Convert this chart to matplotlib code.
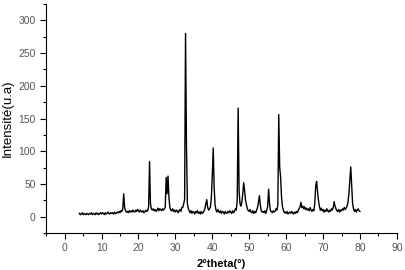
import numpy as np
import matplotlib
matplotlib.use("Agg")
import matplotlib.pyplot as plt
from matplotlib.ticker import MultipleLocator

plt.rcParams["font.family"] = ["Liberation Sans", "DejaVu Sans"]

# 2theta from 4 to 80 deg, one reading every 0.25 deg
two_theta = np.arange(4, 80.001, 0.25)

intensity = [
    5, 3, 4, 6,   3, 5, 4, 3,   5, 4, 3, 5,   4, 6, 3, 5,      # 4-7
    4, 3, 6, 4,   5, 3, 5, 6,   4, 6, 5, 3,   6, 4, 5, 7,      # 8-11
    5, 4, 6, 5,   6, 4, 7, 5,   5, 7, 6, 8,   6, 9, 8, 12,     # 12-15
    35, 14, 9, 7, 8, 6, 9, 7,   9, 7, 10, 8,  7, 10, 8, 11,    # 16-19
    9, 7, 10, 8,  7, 9, 6, 8,   10, 8, 9, 15, 84, 20, 12, 10,  # 20-23
    12, 9, 11, 8, 10, 13, 9, 12, 11, 9, 12, 10, 12, 14, 60, 35,  # 24-27
    62, 30, 14, 10, 9, 12, 8, 10, 7, 10, 9, 6, 9, 11, 8, 14,   # 28-31
    14, 20, 26, 280, 110, 20, 12, 9, 6, 9, 5, 8, 7, 4, 8, 6,   # 32-35
    9, 5, 7, 4,   8, 5, 6, 9,   12, 20, 26, 14, 10, 12, 15, 30,  # 36-39
    63, 105, 45, 18, 10, 7, 11, 8, 6, 9, 5, 8, 7, 4, 8, 6,     # 40-43
    5, 8, 6, 9,   7, 5, 9, 6,   8, 12, 10, 25, 166, 40, 20, 16,  # 44-47
    22, 35, 52, 40, 25, 18, 12, 9, 8, 11, 7, 6, 9, 5, 8, 6,    # 48-51
    10, 14, 22, 32, 18, 9, 7, 8, 6, 9, 5, 10, 16, 42, 20, 9,   # 52-55
    8, 6, 9, 7,   8, 12, 10, 18, 156, 75, 61, 30, 15, 10, 6, 7,  # 56-59
    5, 8, 4, 6,   7, 5, 8, 6,   4, 7, 5, 8,   6, 9, 12, 15,    # 60-63
    22, 14, 16, 12, 15, 11, 13, 10, 12, 9, 14, 10, 8, 11, 9, 20,  # 64-67
    47, 54, 38, 25, 16, 10, 13, 9, 11, 7, 10, 8, 12, 9, 7, 10,  # 68-71
    8, 12, 10, 14, 23, 16, 12, 9, 8, 11, 7, 10, 9, 12, 10, 14,  # 72-75
    11, 13, 16, 22, 35, 55, 76, 48, 20, 12, 8, 11, 7, 10, 12, 9,  # 76-79
    8,                                                          # 80
]

x_ticks = list(range(0, 91, 10))
y_ticks = list(range(0, 301, 50))

fig = plt.figure(figsize=(4.05, 2.7), dpi=100)
ax = fig.add_axes([0.114, 0.137, 0.866, 0.848])

ax.plot(two_theta, intensity, color="black", linewidth=1.0)

ax.set_xlim(-5, 90)
ax.set_ylim(-25, 325)
ax.set_xticks(x_ticks)
ax.set_yticks(y_ticks)
ax.xaxis.set_minor_locator(MultipleLocator(5))
ax.yaxis.set_minor_locator(MultipleLocator(25))

ax.spines["top"].set_visible(False)
ax.spines["right"].set_visible(False)
ax.spines["left"].set_linewidth(0.8)
ax.spines["bottom"].set_linewidth(0.8)
ax.tick_params(which="major", direction="out", length=4, width=0.8,
               labelsize=7.5, labelcolor="#555555")
ax.tick_params(which="minor", direction="out", length=2, width=0.8)

ax.set_xlabel("2°theta(°)", fontsize=8, fontweight="bold", labelpad=4)
ax.set_ylabel("Intensité(u.a)", fontsize=9.5, labelpad=3)

fig.savefig("out.png", dpi=100)
